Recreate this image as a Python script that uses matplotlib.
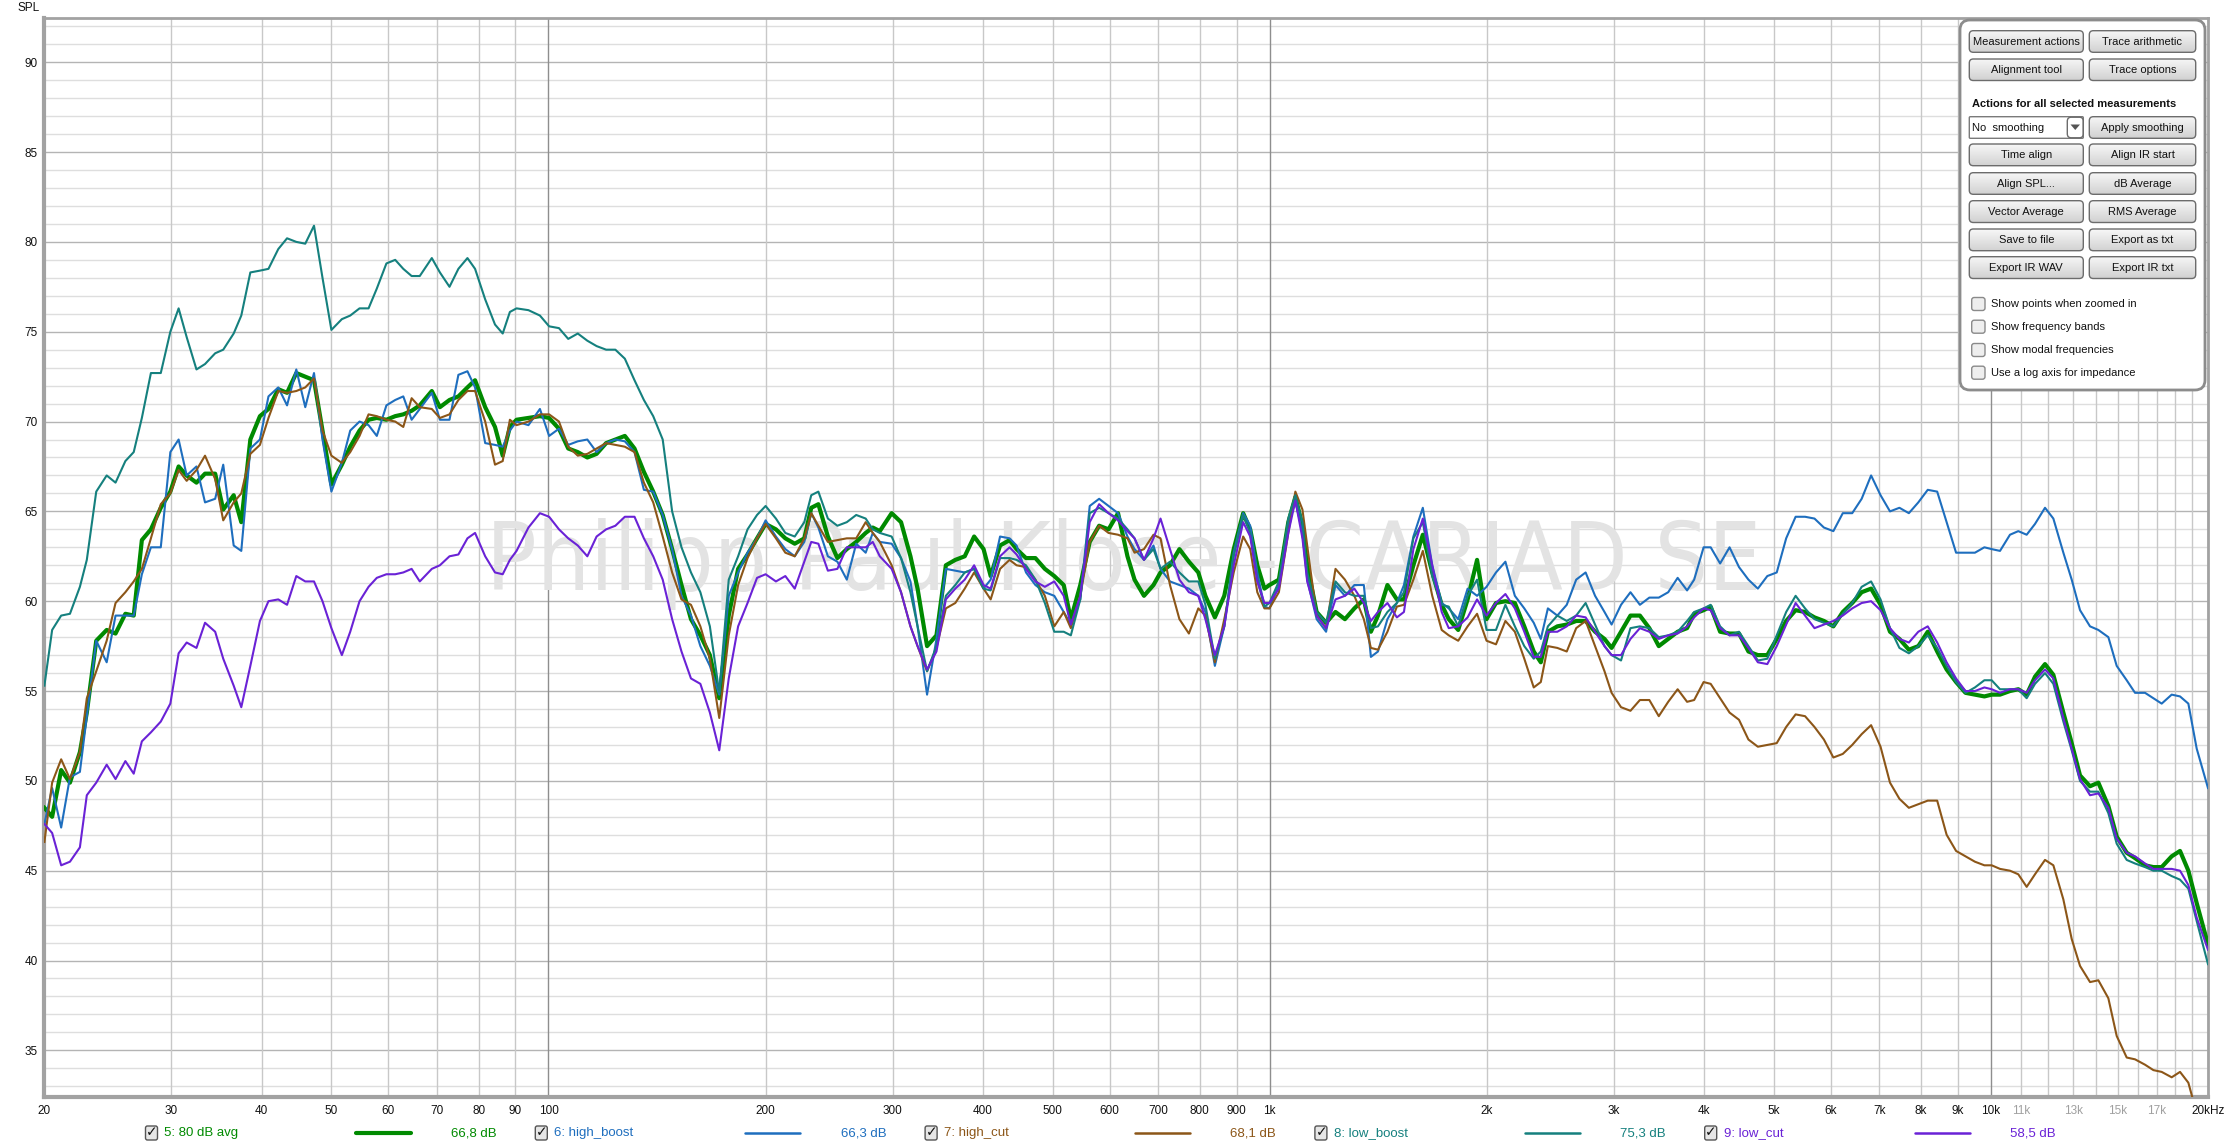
import matplotlib
matplotlib.use("Agg")
import numpy as np
import matplotlib.pyplot as plt
from matplotlib.patches import FancyBboxPatch, Polygon
from matplotlib.colors import LinearSegmentedColormap
from matplotlib.ticker import NullLocator
from matplotlib import font_manager
from matplotlib.font_manager import FontProperties

W, H = 2230, 1148

# ---------------- data (frequency in Hz, SPL in dB) ----------------
FREQ = [
    20.0, 20.5, 21.1, 21.7, 22.4, 22.9, 23.6, 24.4, 25.1, 25.9,
    26.6, 27.3, 28.1, 29.0, 29.9, 30.7, 31.5, 32.5, 33.4, 34.5,
    35.4, 36.6, 37.5, 38.6, 39.8, 40.9, 42.2, 43.4, 44.7, 46.0,
    47.3, 48.6, 50.0, 51.7, 53.1, 54.7, 56.3, 57.8, 59.6, 61.3,
    62.9, 64.6, 66.3, 68.9, 70.7, 72.9, 75.0, 77.2, 79.1, 81.7,
    84.3, 86.4, 88.4, 90.3, 93.8, 97.3, 100.2,
    103.4, 106.5, 109.8, 113.2, 116.6, 120.2, 123.8, 127.6, 131.6, 135.6,
    139.7, 144.0, 148.4, 152.9, 157.6, 162.4, 167.4, 172.5, 177.8, 183.2,
    188.8, 194.6, 200.0, 206.7, 213.0, 219.5, 226.3, 231.4, 236.7, 244.0,
    251.5, 259.2, 267.1, 275.3, 281.6, 288.0, 299.1, 308.2, 317.6, 324.9,
    334.9, 345.1, 355.6, 366.5, 377.7, 389.2, 401.1, 410.3, 422.8, 435.8,
    445.7, 459.3, 473.3, 487.8, 502.7, 518.1, 530.0, 546.2, 562.9, 580.1,
    597.8, 616.2, 635.0, 649.5, 669.4, 690.0, 705.7, 727.4, 749.6, 772.6,
    796.2, 814.4, 839.4, 865.0, 891.5, 918.8, 939.7, 961.2, 983.3,
    999.2, 1029.7, 1061.2, 1085.4, 1110.2, 1127.2, 1161.7, 1197.2, 1233.8, 1271.5,
    1310.4, 1350.6, 1381.4, 1413.0, 1456.3, 1500.8, 1535.1, 1582.1, 1630.5, 1680.3,
    1731.7, 1771.3, 1825.5, 1881.2, 1938.8, 1998.3, 2059.5, 2122.4, 2187.4, 2254.3,
    2323.3, 2376.4, 2430.7, 2505.0, 2581.6, 2660.6, 2742.0, 2825.9, 2912.3, 2979.0,
    3070.1, 3164.0, 3260.7, 3360.5, 3463.3, 3569.2, 3678.4, 3790.9, 3877.5, 3996.2,
    4087.5, 4212.5, 4341.4, 4474.1, 4611.0, 4752.1, 4897.5, 5047.2, 5201.6, 5360.8,
    5524.8, 5693.6, 5867.8, 6047.3, 6232.3, 6422.8, 6619.3, 6821.8, 7030.6, 7245.8,
    7467.4, 7695.9, 7931.4, 8173.9, 8424.1, 8681.9, 8947.6, 9221.0, 9503.2, 9794.0,
    10025, 10295, 10628, 10914, 11210, 11512, 11886, 12207, 12603, 12943,
    13292, 13723, 14093, 14550, 14943, 15428, 15844, 16358, 16799, 17251,
    17811, 18291, 18784, 19290, 19999,
]

AVG_80DB = [
    48.5, 48.0, 50.6, 49.9, 51.6, 53.8, 57.8, 58.4, 58.2, 59.3,
    59.2, 63.4, 64.0, 65.2, 66.1, 67.5, 67.0, 66.6, 67.1, 67.1,
    65.1, 65.9, 64.4, 69.0, 70.3, 70.7, 71.8, 71.6, 72.7, 72.5,
    72.3, 69.5, 66.5, 67.6, 68.6, 69.5, 70.1, 70.2, 70.1, 70.3,
    70.4, 70.6, 70.9, 71.7, 70.8, 71.2, 71.4, 71.9, 72.3, 70.8,
    69.7, 68.1, 69.7, 70.1, 70.2, 70.3, 70.2,
    69.6, 68.5, 68.3, 68.0, 68.2, 68.8, 69.0, 69.2, 68.5, 67.2,
    66.1, 64.8, 62.9, 60.9, 59.0, 58.1, 57.0, 54.6, 59.2, 61.8,
    62.6, 63.5, 64.3, 64.0, 63.5, 63.2, 63.5, 65.2, 65.4, 63.6,
    62.4, 62.9, 63.3, 63.8, 64.1, 63.9, 64.9, 64.4, 62.5, 60.7,
    57.5, 58.1, 62.0, 62.3, 62.5, 63.6, 62.9, 61.4, 63.1, 63.4,
    62.9, 62.4, 62.4, 61.8, 61.4, 60.9, 59.0, 60.9, 63.3, 64.2,
    64.0, 64.9, 62.5, 61.2, 60.3, 60.9, 61.6, 62.0, 62.9, 62.2,
    61.6, 60.3, 59.1, 60.3, 62.9, 64.9, 64.0, 62.0, 60.7,
    60.9, 61.2, 64.4, 65.8, 64.2, 62.0, 59.4, 58.8, 59.4, 59.0,
    59.6, 60.1, 58.3, 59.2, 60.9, 60.1, 60.1, 62.0, 63.7, 61.6,
    59.8, 59.0, 58.4, 60.1, 62.3, 59.0, 59.9, 60.0, 59.9, 58.6,
    57.2, 56.6, 58.3, 58.6, 58.7, 58.9, 58.9, 58.3, 57.9, 57.4,
    58.3, 59.2, 59.2, 58.5, 57.5, 57.9, 58.3, 58.5, 59.3, 59.5,
    59.7, 58.3, 58.2, 58.2, 57.2, 57.0, 57.0, 57.9, 58.9, 59.5,
    59.4, 59.1, 58.9, 58.6, 59.4, 59.9, 60.5, 60.7, 59.8, 58.3,
    57.9, 57.3, 57.5, 58.3, 57.2, 56.2, 55.5, 54.9, 54.8, 54.7,
    54.8, 54.8, 55.0, 55.1, 54.8, 55.8, 56.5, 55.9, 53.8, 52.1,
    50.3, 49.7, 49.9, 48.6, 46.9, 46.0, 45.7, 45.3, 45.2, 45.2,
    45.8, 46.1, 45.0, 43.2, 40.9,
]

HIGH_BOOST = [
    47.6, 49.6, 47.4, 50.2, 50.5, 53.6, 57.8, 56.6, 59.2, 59.2,
    59.2, 61.5, 63.0, 63.0, 68.3, 69.0, 67.0, 67.5, 65.5, 65.7,
    67.6, 63.1, 62.8, 68.5, 69.0, 71.4, 71.9, 70.9, 72.9, 70.8,
    72.7, 69.0, 66.1, 67.7, 69.5, 70.0, 69.8, 69.2, 70.9, 71.2,
    71.4, 70.1, 70.7, 71.6, 70.1, 70.1, 72.6, 72.8, 71.9, 68.8,
    68.7, 68.6, 69.5, 70.0, 69.8, 70.7, 69.2,
    69.6, 68.7, 68.9, 69.0, 68.3, 68.8, 69.0, 68.9, 68.3, 66.2,
    66.1, 64.8, 62.9, 60.3, 59.2, 57.5, 56.4, 54.8, 60.3, 61.6,
    62.7, 63.5, 64.5, 63.6, 62.9, 62.5, 63.3, 64.9, 64.1, 62.5,
    62.2, 61.2, 63.2, 62.7, 63.8, 63.3, 63.2, 62.4, 61.1, 58.6,
    54.8, 57.9, 61.8, 61.7, 61.6, 61.8, 60.7, 61.2, 63.6, 63.5,
    63.1, 61.6, 60.9, 60.5, 60.3, 59.4, 58.7, 60.1, 65.3, 65.7,
    65.3, 64.9, 63.6, 62.9, 62.3, 63.1, 61.8, 61.1, 60.9, 60.7,
    60.3, 59.4, 56.4, 58.6, 62.7, 64.9, 64.2, 61.6, 59.7,
    59.6, 60.9, 64.4, 65.6, 63.8, 61.2, 59.0, 58.3, 60.9, 60.3,
    60.9, 60.9, 56.9, 57.2, 59.0, 59.9, 60.9, 63.6, 65.2, 62.0,
    59.9, 59.6, 59.0, 60.7, 60.3, 60.8, 61.6, 62.2, 60.3, 59.6,
    58.8, 57.9, 59.6, 59.2, 59.8, 61.2, 61.6, 60.3, 59.4, 58.7,
    59.8, 60.5, 59.8, 60.2, 60.2, 60.5, 61.3, 60.6, 61.2, 63.0,
    63.0, 62.1, 63.0, 61.9, 61.2, 60.7, 61.4, 61.6, 63.5, 64.7,
    64.7, 64.6, 64.1, 63.9, 64.9, 64.9, 65.7, 67.0, 65.9, 65.0,
    65.2, 64.9, 65.5, 66.2, 66.1, 64.4, 62.7, 62.7, 62.7, 63.0,
    62.9, 62.8, 63.7, 63.9, 63.7, 64.3, 65.2, 64.6, 62.7, 61.2,
    59.5, 58.6, 58.4, 58.0, 56.4, 55.6, 54.9, 54.9, 54.6, 54.3,
    54.8, 54.7, 54.3, 51.8, 49.6,
]

HIGH_CUT = [
    46.6, 49.9, 51.2, 50.1, 51.6, 54.6, 56.1, 57.8, 59.9, 60.5,
    61.1, 61.8, 63.5, 65.4, 66.0, 67.3, 66.7, 67.3, 68.1, 66.8,
    64.5, 65.5, 66.0, 68.2, 68.7, 70.2, 71.7, 71.6, 71.7, 71.9,
    72.4, 69.5, 68.1, 67.7, 68.3, 69.2, 70.4, 70.3, 70.1, 70.0,
    69.7, 71.3, 70.8, 70.7, 70.2, 70.4, 71.2, 71.7, 71.7, 70.0,
    67.6, 67.8, 70.1, 69.8, 70.0, 70.4, 70.4,
    70.0, 68.6, 68.1, 68.2, 68.5, 68.8, 68.7, 68.6, 68.3, 66.6,
    65.5, 63.6, 61.6, 60.1, 59.8, 58.6, 56.8, 53.5, 58.1, 60.9,
    62.4, 63.5, 64.3, 63.5, 62.7, 62.5, 63.5, 64.9, 64.2, 63.3,
    63.4, 63.5, 63.5, 64.4, 63.8, 63.3, 62.0, 60.5, 58.6, 57.5,
    56.1, 57.4, 59.6, 59.9, 60.7, 61.6, 60.7, 60.1, 61.8, 62.3,
    62.0, 61.9, 61.2, 60.3, 58.6, 59.4, 58.5, 60.3, 63.3, 64.2,
    63.8, 63.7, 63.5, 62.7, 62.9, 63.7, 63.5, 60.9, 59.0, 58.2,
    59.6, 59.2, 56.6, 59.0, 61.6, 63.6, 62.9, 60.5, 59.6,
    59.6, 60.5, 63.8, 66.1, 65.1, 63.1, 59.2, 58.5, 61.8, 61.2,
    60.3, 59.0, 57.4, 57.3, 58.3, 59.7, 59.8, 61.2, 62.8, 60.3,
    58.4, 58.1, 57.8, 58.6, 59.3, 57.8, 57.6, 58.9, 58.3, 56.8,
    55.2, 55.5, 57.5, 57.4, 57.2, 58.5, 58.9, 57.5, 56.1, 54.9,
    54.1, 53.9, 54.5, 54.5, 53.6, 54.4, 55.1, 54.4, 54.5, 55.5,
    55.4, 54.6, 53.8, 53.4, 52.3, 51.9, 52.0, 52.1, 53.0, 53.7,
    53.6, 53.0, 52.3, 51.3, 51.5, 52.0, 52.6, 53.1, 51.9, 49.9,
    49.0, 48.5, 48.7, 48.9, 48.9, 47.0, 46.1, 45.8, 45.5, 45.3,
    45.3, 45.1, 45.0, 44.8, 44.1, 44.8, 45.6, 45.3, 43.4, 41.2,
    39.7, 38.8, 38.9, 37.9, 35.8, 34.6, 34.5, 34.2, 33.9, 33.8,
    33.5, 33.8, 33.2, 31.5, 29.5,
]

LOW_BOOST = [
    55.3, 58.4, 59.2, 59.3, 60.8, 62.3, 66.1, 67.0, 66.6, 67.8,
    68.3, 70.2, 72.7, 72.7, 75.0, 76.3, 74.7, 72.9, 73.2, 73.8,
    74.0, 74.9, 75.9, 78.3, 78.4, 78.5, 79.6, 80.2, 80.0, 79.9,
    80.9, 78.0, 75.1, 75.7, 75.9, 76.3, 76.3, 77.4, 78.8, 79.0,
    78.5, 78.1, 78.1, 79.1, 78.3, 77.5, 78.5, 79.1, 78.5, 76.8,
    75.4, 74.9, 76.1, 76.3, 76.2, 75.9, 75.3,
    75.2, 74.6, 74.9, 74.5, 74.2, 74.0, 74.0, 73.5, 72.3, 71.2,
    70.3, 69.0, 65.0, 63.0, 61.6, 60.5, 58.6, 54.9, 61.2, 62.5,
    64.0, 64.8, 65.3, 64.6, 63.8, 63.6, 64.4, 65.9, 66.1, 64.6,
    64.2, 64.4, 64.8, 64.6, 64.0, 63.8, 63.6, 62.4, 60.5, 58.6,
    56.1, 57.5, 60.3, 60.9, 61.6, 61.8, 60.7, 60.6, 62.4, 62.4,
    62.3, 62.0, 61.2, 59.9, 58.3, 58.3, 58.1, 60.1, 64.9, 65.2,
    64.9, 64.6, 64.0, 63.5, 62.3, 62.9, 61.8, 62.2, 61.6, 61.1,
    61.1, 59.8, 56.8, 58.6, 62.5, 64.8, 63.8, 61.2, 59.7,
    59.9, 61.1, 64.6, 65.9, 64.4, 61.6, 59.4, 58.8, 61.1, 60.5,
    60.3, 60.3, 58.5, 58.6, 59.4, 59.9, 60.5, 63.5, 64.4, 61.4,
    59.8, 59.7, 58.6, 60.3, 61.2, 58.4, 58.4, 59.8, 58.6, 57.5,
    56.8, 57.2, 58.6, 59.2, 58.9, 59.2, 59.9, 58.7, 57.5, 57.0,
    56.7, 58.5, 58.6, 58.5, 58.0, 58.1, 58.3, 58.9, 59.4, 59.6,
    59.8, 58.6, 58.1, 58.3, 57.5, 56.7, 56.8, 58.1, 59.4, 60.3,
    59.6, 59.0, 58.8, 58.6, 59.3, 59.9, 60.8, 61.1, 60.1, 58.5,
    57.4, 57.1, 57.5, 58.1, 57.4, 56.4, 55.5, 54.9, 55.2, 55.6,
    55.6, 55.1, 55.1, 55.1, 54.6, 55.4, 56.0, 55.4, 53.3, 51.7,
    50.0, 49.4, 49.4, 48.2, 46.5, 45.6, 45.4, 45.2, 45.0, 45.0,
    44.7, 44.5, 44.0, 42.2, 39.8,
]

LOW_CUT = [
    47.6, 47.1, 45.3, 45.5, 46.3, 49.2, 49.9, 50.9, 50.1, 51.1,
    50.4, 52.2, 52.7, 53.3, 54.3, 57.1, 57.7, 57.4, 58.8, 58.3,
    56.8, 55.3, 54.1, 56.4, 58.9, 60.0, 60.1, 59.8, 61.4, 61.1,
    61.1, 60.0, 58.5, 57.0, 58.3, 60.0, 60.8, 61.3, 61.5, 61.5,
    61.6, 61.8, 61.1, 61.8, 62.0, 62.5, 62.6, 63.5, 63.8, 62.5,
    61.6, 61.5, 62.3, 62.8, 64.1, 64.9, 64.7,
    64.0, 63.5, 63.1, 62.5, 63.6, 64.0, 64.2, 64.7, 64.7, 63.5,
    62.5, 61.2, 59.0, 57.2, 55.7, 55.4, 53.8, 51.7, 55.7, 58.6,
    59.9, 61.3, 61.5, 61.1, 61.4, 60.7, 62.2, 63.3, 63.2, 61.7,
    61.8, 63.0, 63.0, 63.0, 63.3, 62.5, 61.8, 60.5, 58.6, 57.5,
    56.2, 57.2, 60.1, 60.7, 61.2, 62.0, 60.9, 60.7, 62.5, 63.0,
    62.6, 61.8, 61.1, 60.8, 61.1, 60.3, 58.7, 60.3, 64.4, 65.4,
    64.9, 64.5, 63.9, 63.5, 62.3, 63.5, 64.6, 62.9, 61.2, 60.5,
    60.3, 59.0, 57.0, 58.6, 62.0, 64.4, 63.6, 61.1, 59.9,
    59.9, 60.7, 63.8, 65.6, 63.5, 61.1, 59.2, 58.5, 60.1, 60.3,
    60.7, 59.9, 58.9, 59.4, 59.9, 59.1, 59.4, 62.9, 64.6, 62.0,
    59.4, 58.5, 58.6, 59.1, 60.1, 59.2, 59.9, 60.4, 59.6, 58.3,
    56.9, 56.9, 58.3, 58.3, 58.6, 59.2, 59.1, 58.3, 57.5, 57.0,
    57.0, 57.9, 58.5, 58.3, 57.9, 58.1, 58.2, 58.6, 59.1, 59.6,
    59.5, 58.5, 58.1, 58.1, 57.4, 56.6, 56.5, 57.5, 58.7, 59.9,
    59.2, 58.5, 58.7, 58.9, 59.2, 59.6, 59.9, 60.0, 59.5, 58.5,
    57.9, 57.7, 58.3, 58.6, 57.7, 56.6, 55.7, 55.0, 55.0, 55.2,
    55.1, 54.9, 55.1, 55.1, 54.9, 55.6, 56.2, 55.7, 53.5, 51.8,
    50.1, 49.2, 49.3, 48.5, 46.8, 46.0, 45.8, 45.4, 45.1, 45.1,
    45.1, 45.0, 44.2, 42.4, 40.6,
]

SERIES_NAMES = ["5: 80 dB avg", "6: high_boost", "7: high_cut", "8: low_boost", "9: low_cut"]
SERIES_LEVELS = ["66,8 dB", "66,3 dB", "68,1 dB", "75,3 dB", "58,5 dB"]
SERIES_COLORS = ["#008a00", "#1e6ebe", "#8c5618", "#15807e", "#6a22d6"]

Y_TICKS = [35, 40, 45, 50, 55, 60, 65, 70, 75, 80, 85, 90]
X_TICKS = [20, 30, 40, 50, 60, 70, 80, 90, 100, 200, 300, 400, 500, 600, 700, 800, 900,
           1000, 2000, 3000, 4000, 5000, 6000, 7000, 8000, 9000, 10000,
           11000, 13000, 15000, 17000, 20000]
X_TICK_LABELS = ["20", "30", "40", "50", "60", "70", "80", "90", "100", "200", "300", "400",
                 "500", "600", "700", "800", "900", "1k", "2k", "3k", "4k", "5k", "6k", "7k",
                 "8k", "9k", "10k", "11k", "13k", "15k", "17k", "20kHz"]
X_TICKS_FAINT = ["11k", "13k", "15k", "17k"]
WATERMARK = "Philipp Paul Klose - CARIAD SE"

# ---------------- fonts ----------------
_names = {f.name for f in font_manager.fontManager.ttflist}
NARROW = "Liberation Sans Narrow" if "Liberation Sans Narrow" in _names else "Liberation Sans"
REG = "Liberation Sans"

# a condensed face for the watermark, if one is installed
_cond = None
for _f in font_manager.fontManager.ttflist:
    _fn = _f.fname.replace("-", "").replace("_", "").lower()
    if ("liberationsansnarrowregular" in _fn) or ("dejavusanscondensed.ttf" in _fn):
        _cond = _f.fname
        if "liberation" in _fn:
            break
WM_PROPS = FontProperties(fname=_cond) if _cond else FontProperties(family=NARROW)

fig = plt.figure(figsize=(W / 100, H / 100), dpi=100)
fig.patch.set_facecolor("white")

X0, X1, YT, YB = 44.4, 2208.0, 17.5, 1096.7
ax = fig.add_axes([X0 / W, 1 - YB / H, (X1 - X0) / W, (YB - YT) / H])
ax.set_xscale("log")
ax.set_xlim(20, 20000)
ax.set_ylim(32.42, 92.49)
ax.xaxis.set_minor_locator(NullLocator())

# grid
grid_f = []
for dec in (10, 100, 1000):
    for m in range(2 if dec == 10 else 1, 10):
        grid_f.append(m * dec)
grid_f += [k * 1000 for k in range(10, 21)]
for f in grid_f:
    dark = f in (100, 1000, 10000)
    ax.axvline(f, color="#8e8e8e" if dark else "#c8c8c8", lw=1.0, zorder=0.5)
for v in range(33, 93):
    ax.axhline(v, color="#b4b4b4" if v % 5 == 0 else "#dedede", lw=1.0,
               zorder=0.4 if v % 5 else 0.45)

# watermark: fitted to its width in the reference (left edge 486 px, baseline 590 px)
wm = ax.text(486 / W, 1 - 590 / H, WATERMARK, transform=fig.transFigure,
             ha="left", va="baseline", fontproperties=WM_PROPS, color="#e3e3e3", zorder=1)
wm.set_fontsize(70)
fig.canvas.draw()
_w = wm.get_window_extent().width
wm.set_fontsize(70 * 1276.0 / _w)

# curves
series = [AVG_80DB, HIGH_BOOST, HIGH_CUT, LOW_BOOST, LOW_CUT]
widths = [3.0, 1.5, 1.5, 1.5, 1.5]
for vals, col, lw in zip(series, SERIES_COLORS, widths):
    ax.plot(FREQ, vals, color=col, lw=lw, zorder=3, solid_joinstyle="round")

# axes styling
for s in ax.spines.values():
    s.set_color("#a2a2a2")
ax.spines["left"].set_linewidth(3)
ax.spines["bottom"].set_linewidth(3)
ax.spines["top"].set_linewidth(2)
ax.spines["right"].set_linewidth(2)

ax.set_yticks(Y_TICKS)
ax.set_yticklabels([str(v) for v in Y_TICKS], fontsize=8.5, family=REG, color="#111111")
ax.tick_params(axis="y", length=0, pad=5)
ax.set_xticks(X_TICKS)
ax.set_xticklabels(X_TICK_LABELS, fontsize=8.5, family=NARROW)
ax.tick_params(axis="x", length=0, pad=6)
for lab in ax.get_xticklabels():
    lab.set_color("#a0a0a0" if lab.get_text() in X_TICKS_FAINT else "#111111")

fig.text(17 / W, 1 - 8 / H, "SPL", fontsize=8.5, family=REG, ha="left", va="center", color="#111111")

# ---------------- overlay (panel + legend row) ----------------
ov = fig.add_axes([0, 0, 1, 1], zorder=10)
ov.set_xlim(0, W)
ov.set_ylim(H, 0)
ov.axis("off")
ov.patch.set_alpha(0)

btn_cmap = LinearSegmentedColormap.from_list("btn", ["#f7f7f7", "#d2d2d2"])
grad = np.linspace(0, 1, 32).reshape(-1, 1)


def button(x0, x1, y0, y1, label):
    p = FancyBboxPatch((x0, y0), x1 - x0, y1 - y0, boxstyle="round,pad=0,rounding_size=4",
                       fc="none", ec="#6c6c6c", lw=1.0, zorder=12)
    ov.add_patch(p)
    im = ov.imshow(grad, extent=(x0, x1, y1, y0), cmap=btn_cmap, aspect="auto", zorder=11,
                   interpolation="bilinear")
    im.set_clip_path(p)
    if label:
        ov.text((x0 + x1) / 2, (y0 + y1) / 2 + 0.5, label, ha="center", va="center",
                fontsize=8, family=REG, color="#111111", zorder=13)


panel = FancyBboxPatch((1960, 20), 245, 370, boxstyle="round,pad=0,rounding_size=10",
                       fc="white", ec="#8c8c8c", lw=2, zorder=10)
ov.add_patch(panel)

c1 = (1969.3, 2083.3)
c2 = (2089.3, 2195.7)
rows = [(30.7, 52.3, "Measurement actions", "Trace arithmetic"),
        (59.0, 80.5, "Alignment tool", "Trace options"),
        (144.0, 165.7, "Time align", "Align IR start"),
        (172.7, 194.3, "Align SPL...", "dB Average"),
        (200.7, 222.5, "Vector Average", "RMS Average"),
        (229.0, 250.7, "Save to file", "Export as txt"),
        (256.7, 278.5, "Export IR WAV", "Export IR txt")]
for y0, y1, a, b in rows:
    button(c1[0], c1[1], y0, y1, a)
    button(c2[0], c2[1], y0, y1, b)

ov.text(1971.7, 104, "Actions for all selected measurements", fontsize=8, fontweight="bold",
        family=REG, ha="left", va="center", color="#111111", zorder=13)

# dropdown
dd = FancyBboxPatch((c1[0], 116.7), c1[1] - c1[0], 21.6, boxstyle="round,pad=0,rounding_size=1",
                    fc="white", ec="#7a7a7a", lw=1.0, zorder=12)
ov.add_patch(dd)
button(2067.3, c1[1], 117.2, 137.8, "")
ov.add_patch(Polygon([[2070.5, 124.5], [2080.0, 124.5], [2075.25, 130.0]], closed=True,
                     fc="#555555", ec="none", zorder=14))
ov.text(1972.5, 128, "No  smoothing", fontsize=8, family=REG, ha="left", va="center",
        color="#111111", zorder=13)
button(c2[0], c2[1], 116.7, 138.3, "Apply smoothing")

for yy, txt in [(304, "Show points when zoomed in"), (326.7, "Show frequency bands"),
                (350, "Show modal frequencies"), (372.7, "Use a log axis for impedance")]:
    ov.add_patch(FancyBboxPatch((1971.7, yy - 6.5), 13.3, 13, boxstyle="round,pad=0,rounding_size=2.5",
                                fc="#eeeeee", ec="#8a8a8a", lw=1.0, zorder=12))
    ov.text(1990.7, yy, txt, fontsize=8, family=REG, ha="left", va="center",
            color="#111111", zorder=13)

# legend row
LY = 1133
for i, (nm, lvl, col) in enumerate(zip(SERIES_NAMES, SERIES_LEVELS, SERIES_COLORS)):
    bx = 151.5 + 389.8 * i
    ov.add_patch(FancyBboxPatch((bx - 6, LY - 7), 12, 14, boxstyle="round,pad=0,rounding_size=2",
                                fc="#e6e6e6", ec="#555555", lw=1.0, zorder=12))
    ov.text(bx + 0.5, LY - 0.5, "\u2713", family="DejaVu Sans", fontsize=10, fontweight="bold",
            ha="center", va="center", color="#111111", zorder=13)
    ov.text(bx + 13, LY, nm, fontsize=9.5, family=NARROW, ha="left", va="center", color=col, zorder=13)
    ov.plot([bx + 204, bx + 259], [LY, LY], color=col, lw=3.0 if i == 0 else 1.8,
            solid_capstyle="round", zorder=13)
    ov.text(bx + 345, LY, lvl, fontsize=9.5, family=NARROW, ha="right", va="center", color=col, zorder=13)

ov.set_xlim(0, W)
ov.set_ylim(H, 0)

fig.savefig("out.png", dpi=100, facecolor="white")
